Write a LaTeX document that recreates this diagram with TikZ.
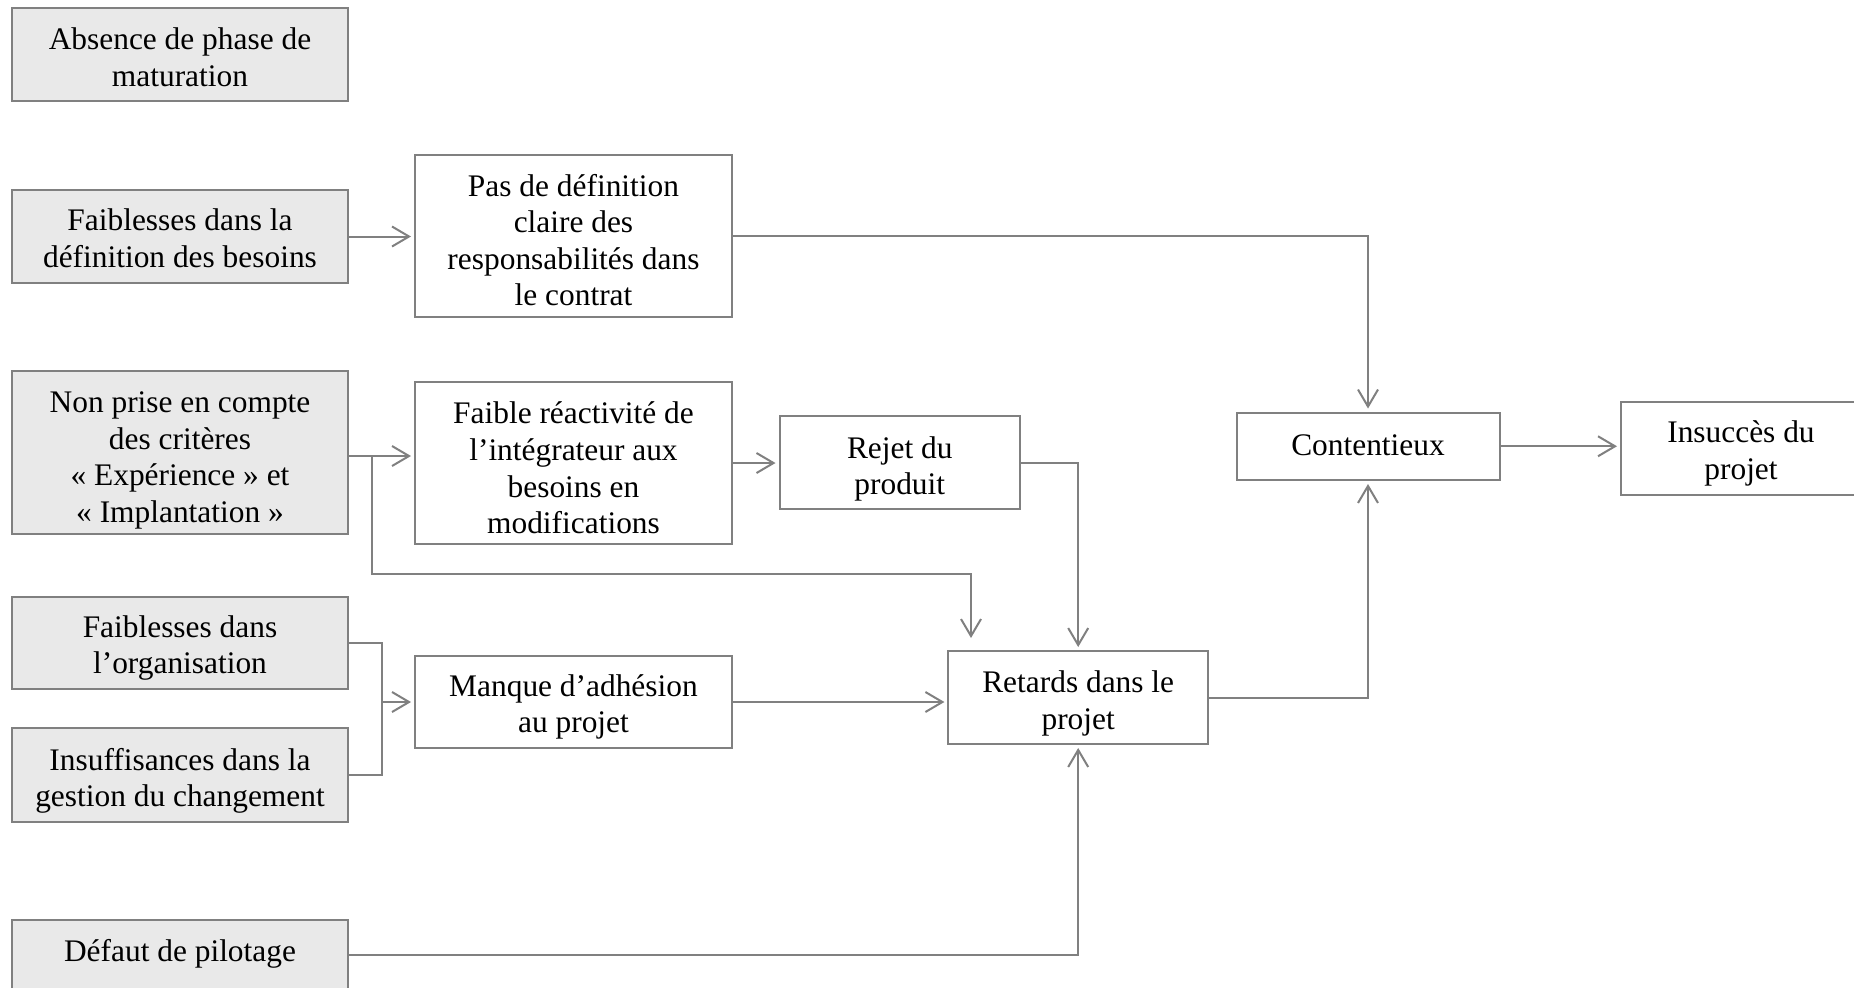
\documentclass[tikz,border=0pt]{standalone}
\usepackage{fontspec}
\setmainfont{Liberation Serif}
\usetikzlibrary{arrows.meta}
\definecolor{edgegray}{HTML}{808080}
\definecolor{causefill}{HTML}{E9E9E9}
\tikzset{
  box/.style={draw=edgegray, line width=1pt, rectangle, inner sep=0pt},
  cause/.style={box, fill=causefill},
  effect/.style={box, fill=white},
  txt/.style={align=center, inner sep=0pt, text=black,
    font=\fontsize{15.7}{18.3}\selectfont},
  link/.style={draw=edgegray, line width=1pt},
  arr/.style={link, -{Straight Barb[length=8.5pt,width=10pt,line width=1pt]}, shorten >=1.5pt},
}
\begin{document}
\begin{tikzpicture}[x=0.5pt,y=-0.5pt]
\clip (0,0) rectangle (1854,987);
\fill[white] (0,0) rectangle (1854,987);

% root causes (grey boxes)
\node[cause, minimum width=168pt, minimum height=46.5pt] (A) at (180,54.5) {};
\node[cause, minimum width=168pt, minimum height=46.5pt] (B) at (180,236.5) {};
\node[cause, minimum width=168pt, minimum height=81.5pt] (C) at (180,452.5) {};
\node[cause, minimum width=168pt, minimum height=46.25pt] (D) at (180,643) {};
\node[cause, minimum width=168pt, minimum height=46.75pt] (E) at (180,775) {};
\node[cause, minimum width=168pt, minimum height=35pt] (G) at (180,955) {};

% intermediate and final effects
\node[effect, minimum width=158.5pt, minimum height=81pt] (P) at (573.5,236) {};
\node[effect, minimum width=158.5pt, minimum height=81pt] (F) at (573.5,463) {};
\node[effect, minimum width=158.5pt, minimum height=46.4pt] (M) at (573.5,702) {};
\node[effect, minimum width=120.25pt, minimum height=46.5pt] (R) at (899.75,462.5) {};
\node[effect, minimum width=129.8pt, minimum height=46.5pt] (T) at (1078.2,697.5) {};
\node[effect, minimum width=131.5pt, minimum height=33.75pt] (K) at (1368,446.25) {};
\node[effect, minimum width=120pt, minimum height=46.5pt] (I) at (1741,448.5) {};

% box texts
\node[txt] (At) at ([yshift=-1.5pt]A.center) {Absence de phase de\\maturation};
\node[txt] (Bt) at ([yshift=-1pt]B.center) {Faiblesses dans la\\définition des besoins};
\node[txt] (Ct) at ([yshift=-4pt]C.center) {Non prise en compte\\des critères\\«~Expérience~» et\\«~Implantation~»};
\node[txt] (Dt) at ([yshift=-2.5pt]D.center) {Faiblesses dans\\l’organisation};
\node[txt] (Et) at ([yshift=-3pt]E.center) {Insuffisances dans la\\gestion du changement};
\node[txt] (Gt) at ([yshift=0.5pt]G.center) {Défaut de pilotage};
\node[txt] (Pt) at ([yshift=-2pt]P.center) {Pas de définition\\claire des\\responsabilités dans\\le contrat};
\node[txt] (Ft) at ([yshift=-2.5pt]F.center) {Faible réactivité de\\l’intégrateur aux\\besoins en\\modifications};
\node[txt] (Mt) at ([yshift=-2.5pt]M.center) {Manque d’adhésion\\au projet};
\node[txt] (Rt) at ([yshift=-3.2pt]R.center) {Rejet du\\produit};
\node[txt] (Tt) at ([yshift=-3pt]T.center) {Retards dans le\\projet};
\node[txt] (Kt) at ([yshift=0.5pt]K.center) {Contentieux};
\node[txt] (It) at ([yshift=-2.5pt]I.center) {Insuccès du\\projet};

% junction points
\coordinate (jc) at (372,456);
\coordinate (jt) at (971,574);
\coordinate (jm) at (382,702);

% connectors
\draw[arr] (B.east) -- (B.east -| P.west);
\draw[arr] (C.east |- jc) -- (F.west |- jc);
\draw[arr, shorten >=6pt] (jc) |- (jt) -- (jt |- T.north);
\draw[arr] (F.east) -- (F.east -| R.west);
\draw[link] (D.east) -| (jm);
\draw[link] (E.east) -| (jm);
\draw[arr] (jm) -- (M.west);
\draw[arr] (M.east) -- (M.east -| T.west);
\draw[arr] (R.east) -| (T.north);
\draw[arr] (G.east) -| (T.south);
\draw[arr] (P.east) -| (K.north);
\draw[arr] (T.east) -| (K.south);
\draw[arr] (K.east) -- (K.east -| I.west);
\end{tikzpicture}
\end{document}
